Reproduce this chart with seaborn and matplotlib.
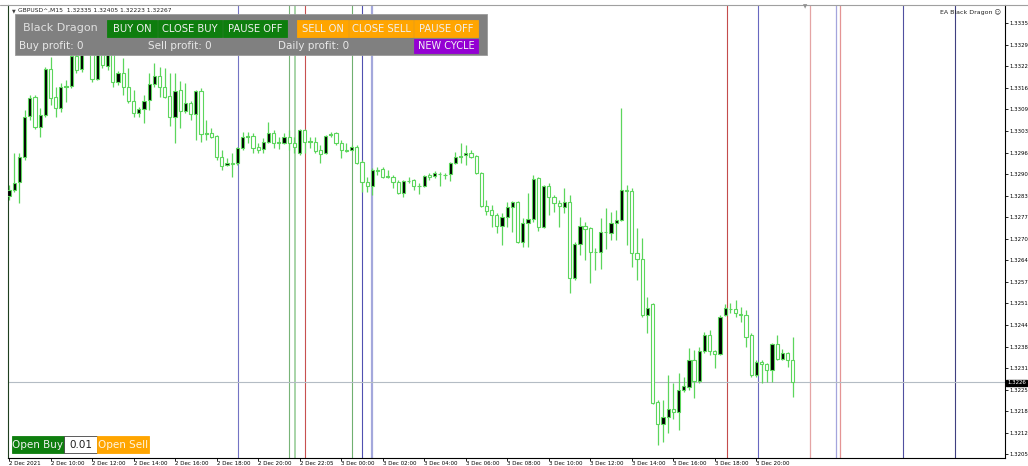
import matplotlib
matplotlib.use("Agg")
import matplotlib.pyplot as plt
from matplotlib.patches import Rectangle
from matplotlib.lines import Line2D
import numpy as np
import pandas as pd
import seaborn as sns

# GBPUSD^ M15 candles, 2 Dec 08:00 -> 3 Dec ~21:45
opens = [1.32829, 1.32847, 1.32871, 1.32946, 1.33070, 1.33127, 1.33037, 1.33073, 1.33212, 1.33127,
         1.33094, 1.33158, 1.33161, 1.33251, 1.33212, 1.33269, 1.33275, 1.33182, 1.33269, 1.33221,
         1.33263, 1.33173, 1.33200, 1.33158, 1.33115, 1.33079, 1.33091, 1.33118, 1.33167, 1.33191,
         1.33158, 1.33130, 1.33067, 1.33149, 1.33085, 1.33109, 1.33076, 1.33146, 1.33016, 1.33019,
         1.33010, 1.32946, 1.32922, 1.32928, 1.32928, 1.32974, 1.33007, 1.33010, 1.32977, 1.32971,
         1.32992, 1.33019, 1.32989, 1.32989, 1.33007, 1.32989, 1.32959, 1.33028, 1.32992, 1.32992,
         1.32968, 1.32959, 1.33013, 1.33019, 1.32989, 1.32968, 1.32968, 1.32977, 1.32931, 1.32871,
         1.32859, 1.32907, 1.32910, 1.32886, 1.32886, 1.32871, 1.32838, 1.32874, 1.32877, 1.32859,
         1.32859, 1.32892, 1.32889, 1.32895, 1.32892, 1.32895, 1.32928, 1.32946, 1.32953, 1.32959,
         1.32950, 1.32898, 1.32799, 1.32787, 1.32772, 1.32738, 1.32766, 1.32796, 1.32811, 1.32691,
         1.32748, 1.32759, 1.32883, 1.32735, 1.32859, 1.32826, 1.32808, 1.32796, 1.32811, 1.32582,
         1.32684, 1.32738, 1.32732, 1.32660, 1.32660, 1.32720, 1.32717, 1.32747, 1.32756, 1.32847,
         1.32844, 1.32657, 1.32639, 1.32470, 1.32503, 1.32208, 1.32141, 1.32162, 1.32186, 1.32177,
         1.32244, 1.32253, 1.32334, 1.32271, 1.32361, 1.32410, 1.32361, 1.32352, 1.32470, 1.32488,
         1.32488, 1.32473, 1.32470, 1.32410, 1.32289, 1.32328, 1.32322, 1.32304, 1.32382, 1.32337,
         1.32355, 1.32335]
highs = [1.32862, 1.32959, 1.32959, 1.33088, 1.33133, 1.33133, 1.33094, 1.33218, 1.33248, 1.33158,
         1.33170, 1.33179, 1.33269, 1.33275, 1.33284, 1.33299, 1.33287, 1.33284, 1.33284, 1.33275,
         1.33275, 1.33206, 1.33245, 1.33215, 1.33149, 1.33097, 1.33133, 1.33200, 1.33230, 1.33218,
         1.33215, 1.33200, 1.33200, 1.33175, 1.33170, 1.33115, 1.33149, 1.33155, 1.33058, 1.33034,
         1.33013, 1.32968, 1.32943, 1.32959, 1.32977, 1.33022, 1.33022, 1.33019, 1.32989, 1.33004,
         1.33052, 1.33028, 1.33007, 1.33019, 1.33028, 1.33007, 1.33031, 1.33031, 1.33007, 1.33007,
         1.32983, 1.33013, 1.33022, 1.33022, 1.32998, 1.32989, 1.32983, 1.32983, 1.32937, 1.32886,
         1.32913, 1.32916, 1.32916, 1.32907, 1.32892, 1.32877, 1.32877, 1.32886, 1.32880, 1.32868,
         1.32892, 1.32898, 1.32904, 1.32901, 1.32898, 1.32931, 1.32962, 1.32989, 1.32983, 1.32968,
         1.32953, 1.32901, 1.32817, 1.32802, 1.32778, 1.32778, 1.32811, 1.32814, 1.32814, 1.32763,
         1.32838, 1.32892, 1.32886, 1.32862, 1.32868, 1.32832, 1.32817, 1.32853, 1.32832, 1.32690,
         1.32766, 1.32750, 1.32735, 1.32672, 1.32763, 1.32793, 1.32781, 1.32787, 1.33094, 1.32862,
         1.32853, 1.32732, 1.32702, 1.32524, 1.32506, 1.32214, 1.32214, 1.32289, 1.32265, 1.32295,
         1.32283, 1.32370, 1.32364, 1.32373, 1.32419, 1.32425, 1.32364, 1.32470, 1.32503, 1.32506,
         1.32515, 1.32494, 1.32485, 1.32416, 1.32334, 1.32334, 1.32325, 1.32386, 1.32410, 1.32367,
         1.32358, 1.32405]
lows = [1.32817, 1.32841, 1.32808, 1.32937, 1.33058, 1.33031, 1.33007, 1.33067, 1.33103, 1.33067,
        1.33082, 1.33112, 1.33155, 1.33200, 1.33203, 1.33257, 1.33173, 1.33179, 1.33215, 1.33209,
        1.33158, 1.33164, 1.33133, 1.33109, 1.33067, 1.33067, 1.33049, 1.33088, 1.33158, 1.33127,
        1.33124, 1.33040, 1.32989, 1.33034, 1.33079, 1.33058, 1.32998, 1.32992, 1.32998, 1.33004,
        1.32937, 1.32907, 1.32919, 1.32886, 1.32922, 1.32968, 1.32989, 1.32959, 1.32959, 1.32959,
        1.32989, 1.32974, 1.32971, 1.32986, 1.32968, 1.32959, 1.32953, 1.32959, 1.32974, 1.32959,
        1.32928, 1.32956, 1.33007, 1.32983, 1.32943, 1.32962, 1.32965, 1.32925, 1.32841, 1.32841,
        1.32832, 1.32892, 1.32883, 1.32883, 1.32853, 1.32835, 1.32826, 1.32868, 1.32847, 1.32835,
        1.32856, 1.32877, 1.32883, 1.32859, 1.32880, 1.32874, 1.32925, 1.32928, 1.32922, 1.32943,
        1.32895, 1.32796, 1.32772, 1.32735, 1.32717, 1.32681, 1.32735, 1.32720, 1.32688, 1.32675,
        1.32675, 1.32750, 1.32723, 1.32732, 1.32772, 1.32781, 1.32735, 1.32778, 1.32536, 1.32576,
        1.32651, 1.32636, 1.32566, 1.32607, 1.32610, 1.32669, 1.32696, 1.32696, 1.32753, 1.32681,
        1.32615, 1.32576, 1.32464, 1.32416, 1.32202, 1.32078, 1.32087, 1.32114, 1.32156, 1.32123,
        1.32238, 1.32244, 1.32220, 1.32265, 1.32355, 1.32349, 1.32310, 1.32349, 1.32467, 1.32476,
        1.32464, 1.32449, 1.32373, 1.32283, 1.32283, 1.32265, 1.32268, 1.32268, 1.32334, 1.32334,
        1.32313, 1.32223]
closes = [1.32847, 1.32868, 1.32946, 1.33067, 1.33124, 1.33037, 1.33073, 1.33212, 1.33124, 1.33094,
          1.33158, 1.33161, 1.33251, 1.33209, 1.33269, 1.33284, 1.33182, 1.33269, 1.33224, 1.33263,
          1.33173, 1.33200, 1.33158, 1.33115, 1.33079, 1.33091, 1.33115, 1.33167, 1.33191, 1.33158,
          1.33127, 1.33067, 1.33146, 1.33085, 1.33109, 1.33076, 1.33146, 1.33016, 1.33019, 1.33007,
          1.32946, 1.32919, 1.32928, 1.32925, 1.32974, 1.33007, 1.33010, 1.32974, 1.32968, 1.32992,
          1.33019, 1.32989, 1.32992, 1.33007, 1.32989, 1.32977, 1.33028, 1.32992, 1.32995, 1.32965,
          1.32956, 1.33010, 1.33016, 1.32989, 1.32968, 1.32965, 1.32977, 1.32928, 1.32871, 1.32859,
          1.32907, 1.32904, 1.32886, 1.32889, 1.32871, 1.32838, 1.32874, 1.32874, 1.32859, 1.32859,
          1.32889, 1.32886, 1.32898, 1.32895, 1.32892, 1.32928, 1.32946, 1.32950, 1.32959, 1.32946,
          1.32898, 1.32799, 1.32784, 1.32772, 1.32738, 1.32766, 1.32796, 1.32811, 1.32691, 1.32748,
          1.32759, 1.32880, 1.32735, 1.32859, 1.32826, 1.32808, 1.32799, 1.32811, 1.32582, 1.32684,
          1.32738, 1.32729, 1.32660, 1.32660, 1.32720, 1.32720, 1.32747, 1.32756, 1.32847, 1.32844,
          1.32657, 1.32639, 1.32470, 1.32491, 1.32205, 1.32141, 1.32162, 1.32186, 1.32177, 1.32244,
          1.32256, 1.32334, 1.32271, 1.32361, 1.32410, 1.32361, 1.32352, 1.32464, 1.32491, 1.32488,
          1.32476, 1.32470, 1.32404, 1.32289, 1.32328, 1.32322, 1.32304, 1.32382, 1.32337, 1.32355,
          1.32334, 1.32267]

bid = 1.32267

time_ticks = [0, 8, 16, 24, 32, 40, 48, 56, 64, 72, 80, 88, 96, 104, 112, 120, 128, 136, 144]
time_labels = ["2 Dec 2021", "2 Dec 10:00", "2 Dec 12:00", "2 Dec 14:00", "2 Dec 16:00",
               "2 Dec 18:00", "2 Dec 20:00", "2 Dec 22:05", "3 Dec 00:00", "3 Dec 02:00",
               "3 Dec 04:00", "3 Dec 06:00", "3 Dec 08:00", "3 Dec 10:00", "3 Dec 12:00",
               "3 Dec 14:00", "3 Dec 16:00", "3 Dec 18:00", "3 Dec 20:00"]

price_ticks = [1.33350, 1.33285, 1.33220, 1.33155, 1.33090, 1.33025, 1.32960, 1.32895, 1.32830,
               1.32765, 1.32700, 1.32635, 1.32570, 1.32505, 1.32440, 1.32375, 1.32310, 1.32245,
               1.32180, 1.32115, 1.32050]
price_labels = ["1.3335", "1.3329", "1.3322", "1.3316", "1.3309", "1.3303", "1.3296", "1.3290",
                "1.3283", "1.3277", "1.3270", "1.3264", "1.3257", "1.3251", "1.3244", "1.3238",
                "1.3231", "1.3225", "1.3218", "1.3212", "1.3205"]

# vertical event lines (bar index), colours and widths
marker_pos = [44.1, 53.9, 55.1, 57.0, 66.1, 68.0, 69.9, 138.3, 144.3, 154.3, 159.3, 160.1, 172.3, 182.3]
marker_colors = ["#7474c4", "#78b478", "#a8d4a8", "#c85050", "#70b070", "#5050b0", "#a4a8dc",
                 "#c44c4c", "#6868c0", "#e4a4a4", "#a4a4dc", "#e49494", "#5050a0", "#404080"]
marker_widths = [0.8, 0.8, 1.4, 0.8, 0.8, 0.8, 1.6, 0.8, 0.8, 0.9, 0.9, 0.9, 0.8, 0.8]

W, H = 1028, 466
GREEN = "#5cd65c"

sns.set_theme(style="white")
plt.rcParams['font.family'] = ['DejaVu Sans']

df = pd.DataFrame({"open": opens, "high": highs, "low": lows, "close": closes})
df["bar"] = np.arange(len(df))
up = df["close"] >= df["open"]

fig = plt.figure(figsize=(W / 100, H / 100), dpi=100)
ax = fig.add_axes([8 / W, 1 - 458 / H, 997 / W, 453 / H])
ax.set_facecolor("white")

for p, c, w in zip(marker_pos, marker_colors, marker_widths):
    ax.axvline(p, color=c, lw=w, zorder=1)
ax.axhline(bid, color="#b4bcc4", lw=0.8, zorder=1)

ax.vlines(df["bar"], df["low"], df["high"], color=GREEN, lw=0.9, zorder=2)
ax.bar(df["bar"], (df["close"] - df["open"]).abs(), bottom=df[["open", "close"]].min(axis=1),
       width=0.62, color=np.where(up, "black", "white"), edgecolor=GREEN, linewidth=0.8, zorder=3)

ax.set_xlim(-0.19, 191.9)
ax.set_ylim(1.32039, 1.33405)

ax.spines["top"].set_visible(False)
ax.spines["left"].set_color("#1f3f1f")
ax.spines["right"].set_color("black")
ax.spines["bottom"].set_color("black")
for s in ["left", "right", "bottom"]:
    ax.spines[s].set_linewidth(0.8)

ax.yaxis.tick_right()
ax.set_yticks(price_ticks, price_labels)
ax.tick_params(axis="y", which="both", right=True, left=False, labelright=True, labelleft=False,
               direction="out", length=2.5, width=0.6, labelsize=3.9, pad=0.8, colors="black")
ax.set_xticks(time_ticks, time_labels)
ax.tick_params(axis="x", bottom=True, direction="out", length=2, width=0.6, labelsize=4.0,
               pad=0.4, colors="black")
for lbl in ax.get_xticklabels():
    lbl.set_ha("left")


def box(x0, y0, x1, y1, fc, ec=None):
    fig.add_artist(Rectangle((x0 / W, 1 - y1 / H), (x1 - x0) / W, (y1 - y0) / H,
                             transform=fig.transFigure, facecolor=fc, edgecolor=ec or fc,
                             lw=0.6, zorder=5))


def label(x, y, s, color, size, ha="left"):
    fig.text(x / W, 1 - y / H, s, color=color, fontsize=size, ha=ha, va="center", zorder=6)


# window frame and header texts
fig.add_artist(Line2D([0, 1], [1 - 4.5 / H] * 2, color="#a0a0a0", lw=0.8))
label(12, 10.5, "▼", "#404040", 3.5)
label(18, 10.5, "GBPUSD^,M15  1.32335 1.32405 1.32223 1.32267", "#202020", 4.3)
label(1001, 12, "EA Black Dragon ☺", "#202020", 4.5, ha="right")
label(805, 7, "▼", "#909090", 4, ha="center")

# EA control panel
box(15, 14, 487, 55, "#808080", "#9a9a9a")
label(23, 28, "Black Dragon", "#e0e0e0", 8)
buttons = [("BUY ON", 107, 157, "#0e7e0e"), ("CLOSE BUY", 158, 222, "#0e7e0e"),
           ("PAUSE OFF", 223, 287, "#0e7e0e"), ("SELL ON", 297, 348, "#ffa500"),
           ("CLOSE SELL", 349, 413, "#ffa500"), ("PAUSE OFF", 414, 478, "#ffa500")]
for txt, x0, x1, fc in buttons:
    box(x0, 20, x1, 37, fc)
    label((x0 + x1) / 2, 28.5, txt, "#f0f0f0", 7.2, ha="center")
label(19, 46, "Buy profit: 0", "#e8e8e8", 7.5)
label(148, 46, "Sell profit: 0", "#e8e8e8", 7.5)
label(278, 46, "Daily profit: 0", "#e8e8e8", 7.5)
box(414, 39, 478, 53, "#9400d3")
label(446, 46, "NEW CYCLE", "#f4f4f4", 7, ha="center")

# one-click trade buttons
box(12, 436, 64, 453, "#0e7e0e")
label(38, 444.5, "Open Buy", "#f0f0f0", 7.5, ha="center")
box(64, 436, 97, 453, "white", "#404040")
label(80.5, 444.5, "0.01", "#202020", 7.5, ha="center")
box(97, 436, 149, 453, "#ffa500")
label(123, 444.5, "Open Sell", "#fff4e0", 7.5, ha="center")

# bid price tag on the price scale
fig.text(1007 / W, 1 - 383 / H, "1.3226", color="white", fontsize=3.9, va="center", zorder=6,
         bbox=dict(boxstyle="square,pad=0.15", fc="black", ec="black"))

fig.savefig("out.png", dpi=100)
